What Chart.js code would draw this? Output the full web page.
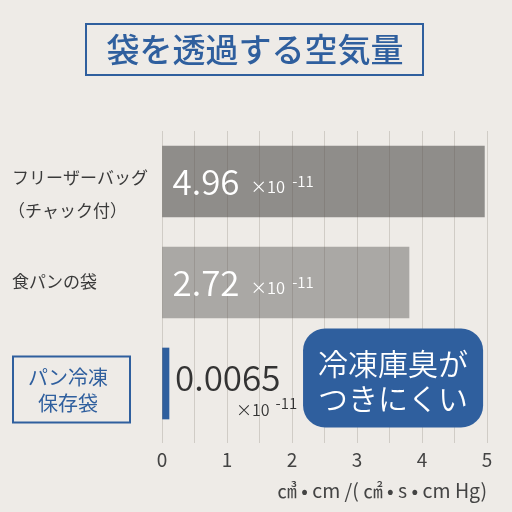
<!DOCTYPE html>
<html><head><meta charset="utf-8">
<script src="https://cdn.jsdelivr.net/npm/chart.js@4.4.1/dist/chart.umd.min.js"></script>
<style>html,body{margin:0;padding:0;background:#eeebe7;}#wrap{width:512px;height:512px;}</style>
</head><body><div id="wrap"><canvas id="c" width="512" height="512"></canvas></div>
<script>
// ---- data ----
const titleText = '袋を透過する空気量';
const categories = [['フリーザーバッグ', '（チャック付）'], ['食パンの袋'], ['パン冷凍', '保存袋']];
// bar lengths as drawn in the picture (in axis units)
const barLengths = [4.96, 3.8, 0.0065];
// value texts printed on the bars
const valueTexts = ['4.96', '2.72', '0.0065'];
const exponentBase = '×10';
const exponentPower = '-11';
const xTicks = [0, 1, 2, 3, 4, 5];
const axisTitle = '㎤ • cm /( ㎠ • s • cm Hg)';
const calloutLines = ['冷凍庫臭が', 'つきにくい'];

// ---- styles ----
const FAM = '"Noto Sans CJK JP", "Noto Sans", sans-serif';
const BLUE = '#2f5f9e';
const barColors = ['#8f8d8a', '#aaa8a5', BLUE];

const custom = {
  id: 'custom',
  afterDraw(chart) {
    const ctx = chart.ctx, xs = chart.scales.x, ys = chart.scales.y;
    const bars = chart.getDatasetMeta(0).data;
    ctx.save();
    // title box
    ctx.strokeStyle = BLUE; ctx.lineWidth = 2;
    ctx.strokeRect(86, 24, 337, 51);
    ctx.fillStyle = BLUE; ctx.font = '500 33px ' + FAM;
    ctx.textAlign = 'center'; ctx.textBaseline = 'middle';
    ctx.fillText(titleText, 255, 49);

    // category labels
    ctx.textAlign = 'left'; ctx.fillStyle = '#3a3a3a'; ctx.font = '17px ' + FAM;
    let y0 = ys.getPixelForValue(0);
    ctx.fillText(categories[0][0], 12, y0 - 4);
    ctx.fillText(categories[0][1], 8, y0 + 29);
    let y1 = ys.getPixelForValue(1);
    ctx.fillText(categories[1][0], 12, y1 - 1);
    let y2 = ys.getPixelForValue(2);
    ctx.strokeStyle = BLUE; ctx.lineWidth = 2;
    ctx.strokeRect(13, y2 - 27, 117, 66);
    ctx.fillStyle = BLUE; ctx.font = '20px ' + FAM; ctx.textAlign = 'center';
    ctx.fillText(categories[2][0], 68, y2 - 6);
    ctx.fillText(categories[2][1], 68, y2 + 20);

    // value labels
    ctx.textAlign = 'left'; ctx.textBaseline = 'alphabetic';
    for (let i = 0; i < 2; i++) {
      const el = bars[i];
      const x = el.base + 10, cy = el.y;
      ctx.fillStyle = '#ffffff';
      ctx.font = '350 35px ' + FAM;
      ctx.fillText(valueTexts[i], x, cy + 13);
      const w = ctx.measureText(valueTexts[i]).width;
      ctx.font = '350 16.5px ' + FAM;
      ctx.fillText(exponentBase, x + w + 11, cy + 11);
      const w2 = ctx.measureText(exponentBase).width;
      ctx.font = '350 15px ' + FAM;
      ctx.fillText(exponentPower, x + w + 11 + w2 + 7, cy + 5);
    }
    {
      const el = bars[2];
      const x = el.x + 6, cy = el.y;
      ctx.fillStyle = '#333333';
      ctx.font = '350 35px ' + FAM;
      ctx.fillText(valueTexts[2], x, cy + 7);
      ctx.font = '350 16px ' + FAM;
      ctx.fillText(exponentBase, x + 61, cy + 32);
      const w2 = ctx.measureText(exponentBase).width;
      ctx.font = '350 15px ' + FAM;
      ctx.fillText(exponentPower, x + 61 + w2 + 6, cy + 25);
    }

    // callout
    const cl = xs.getPixelForValue(2.17), cr = xs.getPixelForValue(4.94);
    const ct = y2 - 55, cb = y2 + 44;
    ctx.fillStyle = BLUE;
    ctx.beginPath(); ctx.roundRect(cl, ct, cr - cl, cb - ct, 22); ctx.fill();
    ctx.fillStyle = '#ffffff'; ctx.font = '350 30px ' + FAM;
    ctx.textAlign = 'left'; ctx.textBaseline = 'middle';
    ctx.fillText(calloutLines[0], cl + 15, y2 - 20);
    ctx.fillText(calloutLines[1], cl + 15, y2 + 15);
    ctx.restore();
  }
};

new Chart(document.getElementById('c'), {
  type: 'bar',
  data: {
    labels: categories,
    datasets: [{ data: barLengths, backgroundColor: barColors, barThickness: 71, minBarLength: 7, borderWidth: 0 }]
  },
  options: {
    indexAxis: 'y', responsive: false, animation: false, devicePixelRatio: 1,
    layout: { padding: { top: 131, right: 25, left: 0, bottom: 0 } },
    plugins: { legend: { display: false }, tooltip: { enabled: false }, title: { display: false } },
    scales: {
      x: {
        min: 0, max: 5,
        ticks: {
          stepSize: 0.5, autoSkip: false, maxRotation: 0, padding: 5,
          callback: v => xTicks.includes(v) ? String(v) : '',
          font: { size: 19, family: FAM }, color: '#444'
        },
        grid: { color: 'rgba(90,80,70,0.2)', lineWidth: 1, tickLength: 9, z: 1 },
        border: { display: false },
        title: { display: true, text: axisTitle, align: 'end', font: { size: 19.5, family: FAM }, color: '#444', padding: { top: 2, bottom: 10 } },
        afterFit: s => { s.height = 78; }
      },
      y: {
        ticks: { display: false }, grid: { display: false }, border: { display: false },
        afterFit: s => { s.width = 162; }
      }
    }
  },
  plugins: [custom]
});
</script>
</body></html>
